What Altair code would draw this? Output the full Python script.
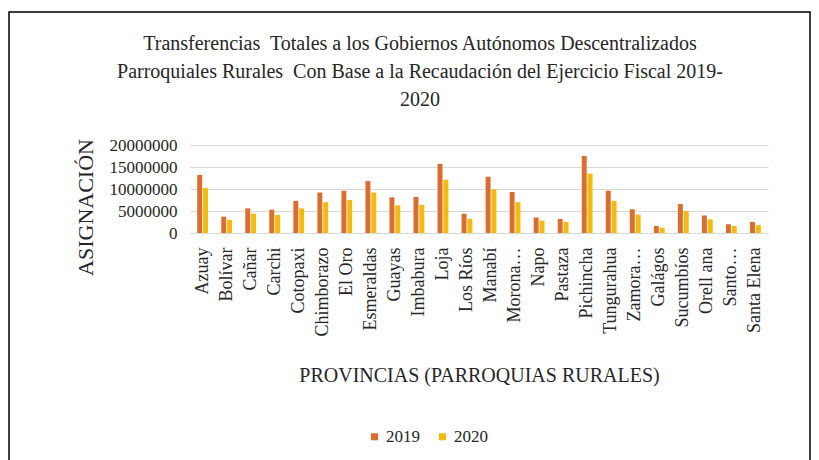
import altair as alt
import pandas as pd

provincias = ["Azuay", "Bolívar", "Cañar", "Carchi", "Cotopaxi", "Chimborazo", "El Oro",
              "Esmeraldas", "Guayas", "Imbabura", "Loja", "Los Ríos", "Manabí", "Morona…",
              "Napo", "Pastaza", "Pichincha", "Tungurahua", "Zamora…", "Galágos",
              "Sucumbíos", "Orell ana", "Santo…", "Santa Elena"]
v2019 = [13200000, 3700000, 5600000, 5300000, 7300000, 9200000, 9600000, 11800000, 8100000,
         8200000, 15700000, 4400000, 12800000, 9300000, 3500000, 3200000, 17500000, 9600000,
         5400000, 1600000, 6600000, 4000000, 2000000, 2500000]
v2020 = [10200000, 3000000, 4400000, 4100000, 5600000, 7000000, 7500000, 9200000, 6300000,
         6400000, 12100000, 3200000, 9900000, 7000000, 2800000, 2500000, 13500000, 7300000,
         4200000, 1200000, 5000000, 3100000, 1600000, 1800000]
years = ["2019", "2020"]
y_ticks = [0, 5000000, 10000000, 15000000, 20000000]
title_lines = ["Transferencias\u00a0 Totales a los Gobiernos Autónomos Descentralizados",
               "Parroquiales Rurales\u00a0 Con Base a la Recaudación del Ejercicio Fiscal 2019-",
               "2020"]

rows = []
for p, a, b in zip(provincias, v2019, v2020):
    rows.append({"prov": p, "year": years[0], "val": a})
    rows.append({"prov": p, "year": years[1], "val": b})
df = pd.DataFrame(rows)

FONT = "'Liberation Serif', 'Times New Roman', serif"
TXT = "#262626"

bars = alt.Chart(df).mark_bar().encode(
    x=alt.X("prov:N", sort=provincias,
            scale=alt.Scale(paddingInner=0.55, paddingOuter=0.3),
            axis=alt.Axis(title="PROVINCIAS (PARROQUIAS RURALES)", labelAngle=-90,
                          labelAlign="right", labelBaseline="middle", labelPadding=14,
                          labelFontSize=18, labelFont=FONT, labelColor=TXT,
                          titleFont=FONT, titleFontSize=20, titleFontWeight="normal",
                          titleColor=TXT, titleY=142, titleBaseline="middle", ticks=False,
                          domainColor="#d9d9d9", labelLimit=200)),
    xOffset=alt.XOffset("year:N", scale=alt.Scale(paddingInner=0.15)),
    y=alt.Y("val:Q", scale=alt.Scale(domain=[0, 20000000]),
            axis=alt.Axis(title="ASIGNACIÓN", values=y_ticks, format="d",
                          labelFontSize=17, labelFont=FONT, labelColor=TXT,
                          titleFont=FONT, titleFontSize=22, titleFontWeight="normal",
                          titleColor=TXT, titleX=-105, titleY=62, titleAngle=-90,
                          titleAlign="center", titleBaseline="middle",
                          domain=False, ticks=False,
                          gridColor="#d9d9d9", labelPadding=13)),
    color=alt.Color("year:N", scale=alt.Scale(domain=years, range=["#DC6D2E", "#F6BA0C"]),
                    legend=alt.Legend(title=None, orient="none", direction="horizontal",
                                      legendX=176, legendY=283, symbolType="square",
                                      symbolSize=50, symbolStrokeWidth=0, labelFont=FONT,
                                      labelFontSize=17, labelColor=TXT, columnPadding=14,
                                      labelOffset=3)),
)

border = alt.Chart(pd.DataFrame({"a": [0]})).mark_rect(
    fill=None, stroke="#000", strokeWidth=1.5, clip=False
).encode(
    x=alt.value(-181), x2=alt.value(620), y=alt.value(-133), y2=alt.value(330)
)

chart = alt.layer(border, bars).properties(
    width=578, height=88,
    autosize=alt.AutoSizeParams(type="none"),
    padding={"left": 182, "top": 137, "right": 43, "bottom": 235},
    title=alt.TitleParams(
        title_lines,
        font=FONT, fontSize=20, fontWeight="normal", color=TXT, anchor="middle",
        frame="group", dx=-59, offset=-99, lineHeight=28),
).configure_view(stroke=None)

chart.save("out.html", embed_options={"renderer": "svg", "actions": False})
